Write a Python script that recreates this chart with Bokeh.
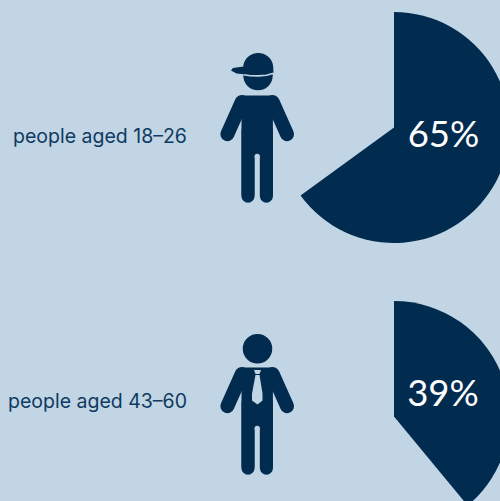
import numpy as np
from bokeh.embed import file_html
from bokeh.models import GlobalInlineStyleSheet, Range1d
from bokeh.plotting import figure
from bokeh.resources import INLINE
from bokeh.core.properties import value

labels = ["people aged 18–26", "people aged 43–60"]
shares = [65, 39]
share_labels = ["65%", "39%"]

BG = "#c1d5e4"
DARK = "#012b4f"
W, H = 500, 501

p = figure(width=W, height=H, output_backend="svg", toolbar_location=None,
           x_range=Range1d(0, W), y_range=Range1d(0, H),
           min_border=0, background_fill_color=BG, border_fill_color=BG, outline_line_color=None)
p.axis.visible = False
p.grid.visible = False
p.stylesheets = [GlobalInlineStyleSheet(css=f"html,body{{margin:0;padding:0;overflow:hidden;background:{BG};}}")]

def Y(v):
    return H - np.asarray(v, dtype=float)

# pies
pie_x = 393.5
pie_y = [127, 416]
pie_r = 115.5
for cy, s in zip(pie_y, shares):
    p.wedge(x=[pie_x], y=[Y(cy)], radius=pie_r, start_angle=np.pi / 2,
            end_angle=np.pi / 2 - 2 * np.pi * s / 100, direction="clock",
            fill_color=DARK, line_color=None)

# person body
cx = 256.7
def person(dy):
    for side in (-1, 1):
        p.line([cx + side * 15.5, cx + side * 29.8], Y([101.5 + dy, 133.7 + dy]),
               line_width=14, line_color=DARK, line_cap="round")
        p.line([cx + side * 9.2, cx + side * 9.2], Y([130 + dy, 195.7 + dy]),
               line_width=13, line_color=DARK, line_cap="round")
    xs = [cx - 15, cx + 15, cx + 20, cx + 15.7, cx + 15.7, cx + 2.7, cx + 2.7, cx - 2.7, cx - 2.7, cx - 15.7, cx - 15.7, cx - 20]
    ys = [95, 95, 102, 115, 195, 195, 156, 156, 195, 195, 115, 102]
    p.patch(xs, Y(np.array(ys) + dy), fill_color=DARK, line_color=None)
    p.scatter([cx], Y([156 + dy]), size=5.4, fill_color=BG, line_color=None)

person(0)
person(272)

# cap figure head
p.scatter([257.5], Y([75]), size=29.5, fill_color=DARK, line_color=None)
t = np.linspace(np.pi, 0, 30)
dome_x = 257.7 + 15 * np.cos(t)
dome_y = 67 - 14.5 * np.sin(t)
brim_x = np.array([273, 262, 246, 236, 230.5, 232.5, 243])
brim_y = np.array([72.5, 74, 74, 73, 70, 67.5, 66])
p.patch(np.concatenate([dome_x, brim_x]), Y(np.concatenate([dome_y, brim_y])), fill_color=DARK, line_color=None)
lx = np.array([243, 250, 258, 266, 273])
ly = np.array([74.2, 75.2, 75.4, 74.8, 72.8])
p.line(lx, Y(ly), line_color=BG, line_width=1.6)

# tie figure head and tie
p.scatter([257], Y([348.3]), size=29.5, fill_color=DARK, line_color=None)
p.patch([253.5, 260.5, 259, 255], Y([369.5, 369.5, 373.5, 373.5]), fill_color=BG, line_color=None)
p.patch([255, 259, 262, 262, 257, 251.5, 251.5], Y([374.5, 374.5, 393, 400, 404, 400, 393]), fill_color=BG, line_color=None)

# text
p.text(x=[12.5, 7.5], y=Y([135, 400.5]), text=labels, text_font=value("Inter"), text_font_size="19.5px",
       text_color="#0f3a62", text_align="left", text_baseline="middle")
p.text(x=[443, 442.5], y=Y([132, 391.5]), text=share_labels, text_font=value("Lato"), text_font_size="36.5px",
       text_color="#ffffff", text_align="center", text_baseline="middle")

open("out.html", "w").write(file_html(p, INLINE))
